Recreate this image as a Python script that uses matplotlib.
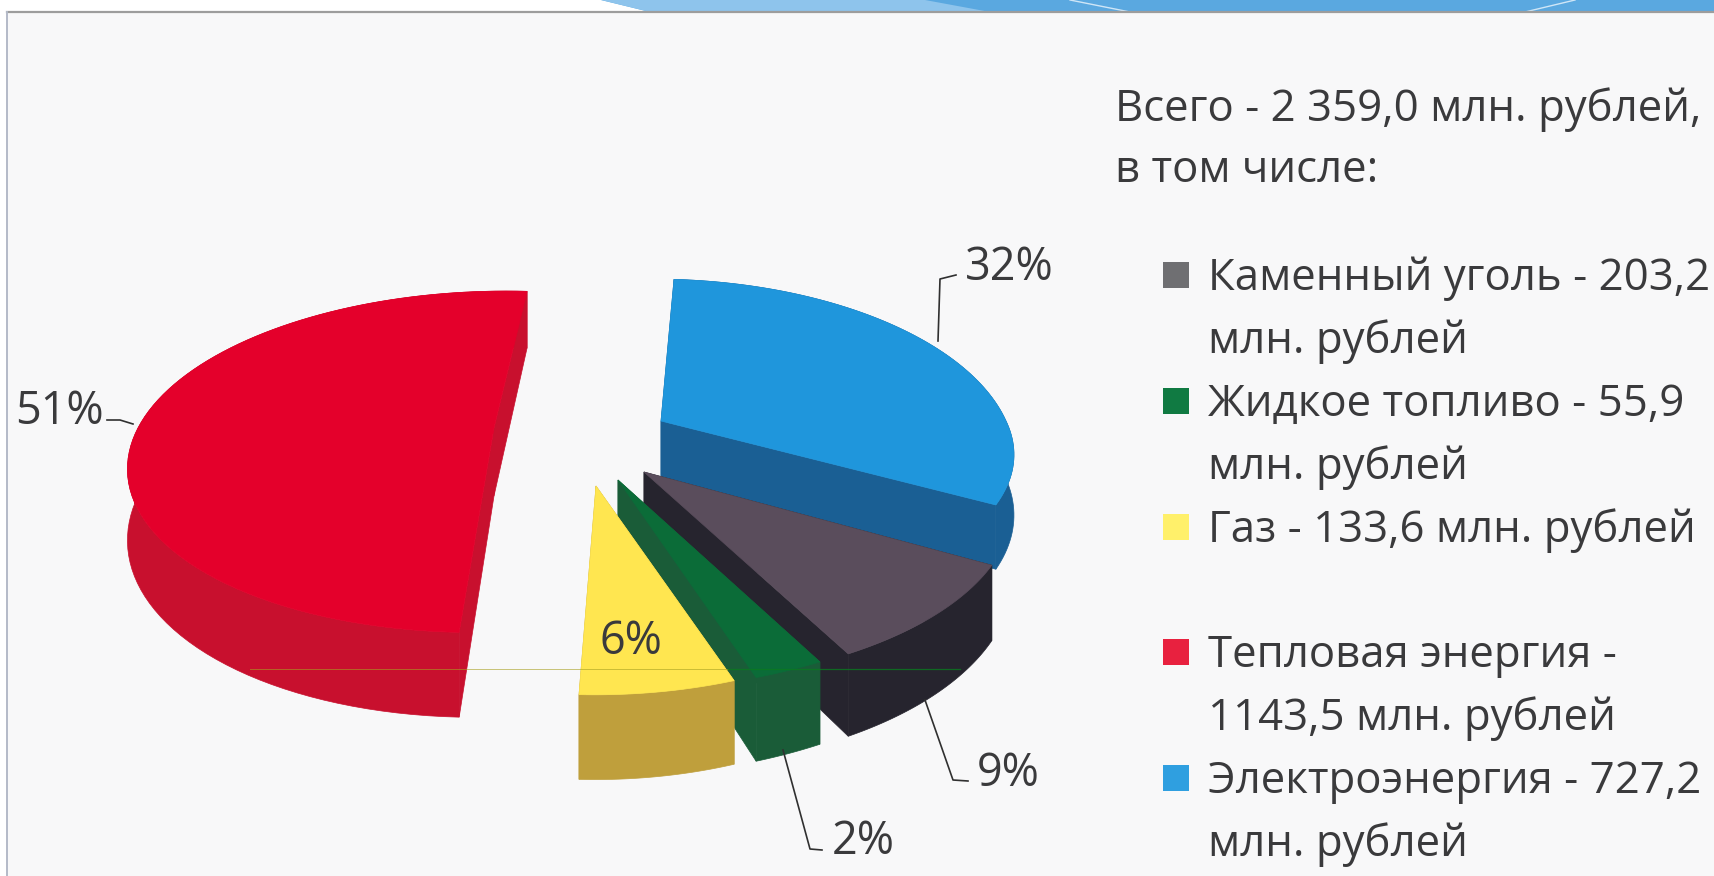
import numpy as np
import matplotlib
matplotlib.use("Agg")
import matplotlib.pyplot as plt
from matplotlib.patches import Polygon, Rectangle

plt.rcParams['font.family'] = ['Open Sans', 'DejaVu Sans']

# ---- data
categories = ["Тепловая энергия", "Электроэнергия", "Каменный уголь", "Жидкое топливо", "Газ"]
values = [1143.5, 727.2, 203.2, 55.9, 133.6]
total_text = "Всего - 2 359,0 млн. рублей,"
subtotal_text = "в том числе:"
legend_lines = [
    ("Каменный уголь - 203,2", "млн. рублей", "#6f6f72", 275),
    ("Жидкое топливо - 55,9", "млн. рублей", "#107a42", 401),
    ("Газ - 133,6 млн. рублей", None, "#fff06a", 527),
    ("Тепловая энергия -", "1143,5 млн. рублей", "#e8213f", 652),
    ("Электроэнергия - 727,2", "млн. рублей", "#2f9fe0", 778),
]

# ---- style
top_colors = ["#e4002b", "#1f96dc", "#5a4d5c", "#0b6c38", "#ffe650"]
side_colors = ["#c8102e", "#1a5f94", "#26242e", "#1a5c38", "#bf9f3c"]
apex = [(494, 428), (661, 421), (644, 472), (618, 480), (596, 486)]
radius_x = [356, 345, 362, 377, 345]
skew_far = [-0.09, 0.05, 0.0, 0.0, 0.0]
skew_near = [-0.09, 0.03, -0.01, -0.07, -0.005]
squash_far = [0.965, 1.0, 1.0, 1.0, 1.0]
squash_near = [0.965, 0.9, 1.0, 1.0, 0.985]
depths = [68.0, 58.0, 68.0, 68.0, 68.0]
START = 86.0
B, P = 170.0, 0.198
TEXT = "#3a3a3c"
FS = 31.5
FS_PCT = 32.4

fig = plt.figure(figsize=(17.14, 8.76), dpi=100, facecolor="white")
ax = fig.add_axes([0, 0, 1, 1])
ax.set_xlim(0, 1714)
ax.set_ylim(876, 0)
ax.axis("off")

# background panel and header band
ax.add_patch(Polygon([(601, 0), (1714, 0), (1714, 12), (650, 12)], fc="#5aa8e0", ec="none", zorder=1))
ax.add_patch(Polygon([(601, 0), (925, 0), (990, 12), (650, 12)], fc="#8ec4ec", ec="none", zorder=1))
ax.plot([1070, 1130], [0, 12], color="#cfe6f7", lw=1, zorder=1)
ax.plot([1575, 1525], [0, 12], color="#cfe6f7", lw=1, zorder=1)
ax.add_patch(Rectangle((7, 12), 1720, 880, fc="#f8f8f9", ec="none", zorder=1))
ax.plot([7, 1714], [12, 12], color="#9d9d9d", lw=1.6, zorder=2)
ax.plot([7, 7], [12, 876], color="#b4bac8", lw=1.4, zorder=2)


def project(t_deg, i):
    t = np.radians(t_deg)
    X, Y = np.cos(t), np.sin(t)
    w = 1 + P * Y
    dy = -B * Y / w
    dy = dy * np.where(dy > 0, squash_near[i], squash_far[i])
    skew = np.where(dy > 0, skew_near[i], skew_far[i])
    return apex[i][0] + radius_x[i] * X / w + skew * dy, apex[i][1] + dy, depths[i] / w


fractions = np.array(values) / sum(values)
sweeps = fractions * 360
angles = [(START, START + sweeps[0])]
cur = START
for s in sweeps[1:]:
    angles.append((cur, cur - s))
    cur -= s

for i, (a0, a1) in enumerate(angles):
    ts = np.linspace(a0, a1, 90)
    x, y, d = project(ts, i)
    ax_, ay_ = apex[i]
    d0 = depths[i]
    # radial walls
    for k in (0, -1):
        ax.add_patch(Polygon([(ax_, ay_), (x[k], y[k]), (x[k], y[k] + d[k]), (ax_, ay_ + d0)],
                             fc=side_colors[i], ec=side_colors[i], lw=0.5, zorder=3 + i))
    # outer wall
    ax.add_patch(Polygon(np.r_[np.c_[x, y], np.c_[x, y + d][::-1]],
                         fc=side_colors[i], ec=side_colors[i], lw=0.5, zorder=3 + i))
    # top surface
    ax.add_patch(Polygon(np.r_[[(ax_, ay_)], np.c_[x, y]],
                         fc=top_colors[i], ec=top_colors[i], lw=0.5, zorder=3 + i))

# thin scan line crossing the pie
ax.plot([250, 728], [669, 669], color="#a8a020", lw=0.7, alpha=0.6, zorder=9)
ax.plot([728, 960], [669, 669], color="#0a7a20", lw=0.9, alpha=0.8, zorder=9)

# percent labels and leader lines
pct = [f"{round(f * 100)}%" for f in fractions]
label_pos = [(15, 406, "left"), (965, 263, "left"), (977, 768, "left"), (832, 837, "left"), (600, 636, "left")]
for s, (x, y, ha) in zip(pct, label_pos):
    ax.text(x, y, s, fontsize=FS_PCT, color=TEXT, ha=ha, va="center_baseline", zorder=10)
leaders = [
    [(107, 420), (120, 420), (133, 424)],
    [(938, 341), (940, 279), (956, 275)],
    [(925, 700), (953, 780), (968, 781)],
    [(783, 750), (810, 849), (822, 850)],
]
for pts in leaders:
    ax.plot(*zip(*pts), color="#303030", lw=1.2, zorder=10)

# text block
ax.text(1115, 104, total_text, fontsize=FS, color=TEXT, va="center_baseline", zorder=10)
ax.text(1115, 165, subtotal_text, fontsize=FS, color=TEXT, va="center_baseline", zorder=10)
for first, second, col, yy in legend_lines:
    ax.add_patch(Rectangle((1163, yy - 13), 26, 26, fc=col, ec="none", zorder=10))
    ax.text(1208, yy - 2, first, fontsize=FS, color=TEXT, va="center_baseline", zorder=10)
    if second:
        ax.text(1208, yy + 61, second, fontsize=FS, color=TEXT, va="center_baseline", zorder=10)

fig.savefig("out.png", dpi=100, facecolor="white")
